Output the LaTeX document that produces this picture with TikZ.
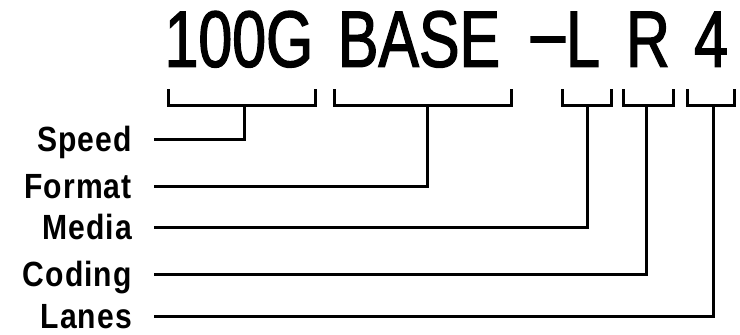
\documentclass[tikz,border=0pt]{standalone}
\usepackage{fontspec}
\setmainfont{Liberation Sans}
\newfontfamily\codefont[FakeStretch=0.76,FakeBold=1.6]{Liberation Sans}
\newfontfamily\fieldfont[FakeStretch=0.86,LetterSpace=3]{Liberation Sans Bold}
\usetikzlibrary{positioning}

\begin{document}
\begin{tikzpicture}[
        x=1pt, y=-1pt,
        part/.style={inner sep=0pt, anchor=south, text height=57pt, text depth=0pt, font=\codefont\fontsize{80}{80}\selectfont},
        field/.style={inner sep=0pt, anchor=east, text height=25pt, text depth=0pt, font=\fieldfont\fontsize{35}{35}\selectfont},
        bracket/.style={line width=3pt},
        wire/.style={line width=3pt}
    ]
        \useasboundingbox (0,0) rectangle (740,335);

        % Code parts
        \node (rate) [part] at (239,67) {100G};
        \node (base) [part] at (419,67) {BASE};
        \node (dash) [part] at (548,60) {\textendash};
        \node (pmd) [part] at (583,67) {L};
        \node (pcs) [part] at (648,67) {R};
        \node (lns) [part] at (711,67) {4};

        % Brackets
        \draw [bracket] (168,89) |- (315,105) -- (315,89);
        \draw [bracket] (334,89) |- (511,105) -- (511,89);
        \draw [bracket] (562,89) |- (611,105) -- (611,89);
        \draw [bracket] (623,89) |- (673,105) -- (673,89);
        \draw [bracket] (687,89) |- (734,105) -- (734,89);
        \coordinate (t1) at (244,105);
        \coordinate (t2) at (427,105);
        \coordinate (t3) at (587,105);
        \coordinate (t4) at (646,105);
        \coordinate (t5) at (713,105);

        % Field names
        \node (speed) [field] at (132,139) {Speed};
        \node (format) [field] at (132,186) {Format};
        \node (media) [field] at (132,227) {Media};
        \node (coding) [field] at (132,274) {Coding};
        \node (lanes) [field] at (132,316) {Lanes};

        % Wires
        \draw [wire] ([xshift=22pt]speed.east) -| (t1);
        \draw [wire] ([xshift=22pt]format.east) -| (t2);
        \draw [wire] ([xshift=22pt]media.east) -| (t3);
        \draw [wire] ([xshift=22pt]coding.east) -| (t4);
        \draw [wire] ([xshift=22pt]lanes.east) -| (t5);
    \end{tikzpicture}
\end{document}
